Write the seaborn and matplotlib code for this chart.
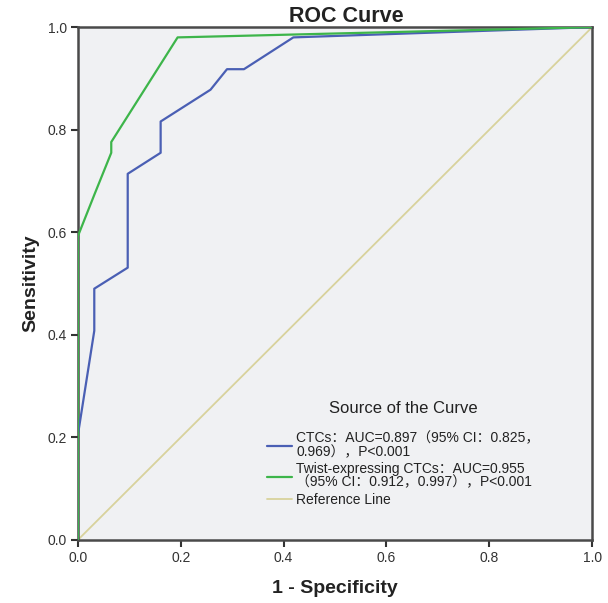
import matplotlib
matplotlib.use("Agg")
import matplotlib.pyplot as plt
import seaborn as sns
import pandas as pd

# points des courbes ROC
ctc_fpr = [0.0, 0.0, 0.032, 0.032, 0.097, 0.097, 0.161, 0.161, 0.258, 0.290, 0.323, 0.419, 1.0]
ctc_tpr = [0.0, 0.204, 0.408, 0.490, 0.531, 0.714, 0.755, 0.816, 0.878, 0.918, 0.918, 0.980, 1.0]

twist_fpr = [0.0, 0.0, 0.032, 0.065, 0.065, 0.194, 1.0]
twist_tpr = [0.0, 0.592, 0.673, 0.755, 0.776, 0.980, 1.0]

ref_x = [0.0, 1.0]
ref_y = [0.0, 1.0]

labels = [
    "CTCs：AUC=0.897（95% CI：0.825，\n0.969），P<0.001",
    "Twist-expressing CTCs：AUC=0.955\n（95% CI：0.912，0.997），P<0.001",
    "Reference Line",
]
colors = ["#4A5FB4", "#3DB54A", "#D8D29C"]

df = pd.concat([
    pd.DataFrame({"x": ctc_fpr, "y": ctc_tpr, "curve": labels[0]}),
    pd.DataFrame({"x": twist_fpr, "y": twist_tpr, "curve": labels[1]}),
    pd.DataFrame({"x": ref_x, "y": ref_y, "curve": labels[2]}),
])

sns.set_style("ticks")
plt.rcParams["font.family"] = ["Liberation Sans", "Noto Sans CJK SC", "DejaVu Sans"]

fig = plt.figure(figsize=(6.08, 6.03), dpi=100)
ax = fig.add_axes([0.128, 0.1045, 0.846, 0.8505])
ax.set_facecolor("#F0F1F3")

# ligne de référence d'abord, puis les courbes
sns.lineplot(data=df[df["curve"] == labels[2]], x="x", y="y", color=colors[2],
             lw=1.3, ax=ax, sort=False, estimator=None, label=labels[2], zorder=2)
sns.lineplot(data=df[df["curve"] == labels[0]], x="x", y="y", color=colors[0],
             lw=1.6, ax=ax, sort=False, estimator=None, label=labels[0], zorder=3)
sns.lineplot(data=df[df["curve"] == labels[1]], x="x", y="y", color=colors[1],
             lw=1.6, ax=ax, sort=False, estimator=None, label=labels[1], zorder=4)

ax.set_xlim(0, 1)
ax.set_ylim(0, 1)
ax.set_xticks([0, 0.2, 0.4, 0.6, 0.8, 1.0])
ax.set_yticks([0, 0.2, 0.4, 0.6, 0.8, 1.0])
ax.set_xticklabels(["0.0", "0.2", "0.4", "0.6", "0.8", "1.0"])
ax.set_yticklabels(["0.0", "0.2", "0.4", "0.6", "0.8", "1.0"])
ax.tick_params(direction="out", length=5, width=1.5, colors="#333333", labelsize=10, pad=3)
for s in ax.spines.values():
    s.set_linewidth(1.8)
    s.set_color("#4A4A4A")
    s.set_visible(True)

ax.set_xlabel("1 - Specificity", fontsize=14, fontweight="bold", color="#222222", labelpad=11)
ax.set_ylabel("Sensitivity", fontsize=14, fontweight="bold", color="#222222", labelpad=6)
ax.set_title("ROC Curve", fontsize=15.5, fontweight="bold", color="#222222", pad=2, x=0.522)

handles, lbls = ax.get_legend_handles_labels()
order = [1, 2, 0]
leg = ax.legend([handles[i] for i in order], [lbls[i] for i in order],
                title="Source of the Curve", loc="lower left",
                bbox_to_anchor=(0.349, 0.045), frameon=False, fontsize=10,
                title_fontsize=12, handlelength=1.8, handletextpad=0.3,
                labelspacing=0.25, borderpad=0.2, alignment="center")
leg._legend_box.sep = 11
leg.get_title().set_color("#222222")
for t in leg.get_texts():
    t.set_color("#222222")
    t.set_linespacing(0.95)

fig.savefig("out.png", dpi=100)
